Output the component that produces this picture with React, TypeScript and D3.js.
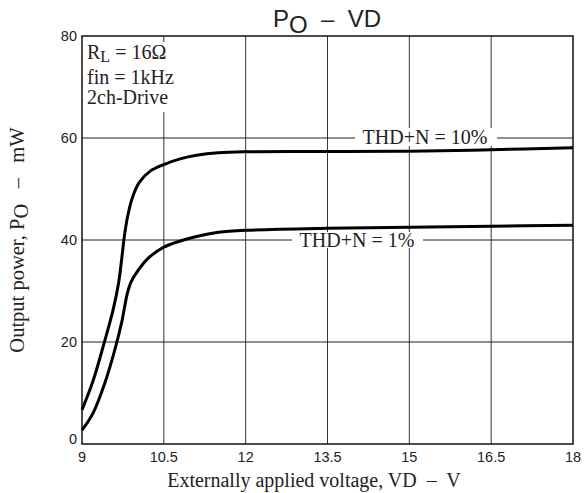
import React from "react";
import * as d3 from "d3";

const xTicks = [9, 10.5, 12, 13.5, 15, 16.5, 18];
const yTicks = [0, 20, 40, 60, 80];

const thd10V = [9, 9.2, 9.4, 9.57, 9.67, 9.73, 9.78, 9.84, 9.92, 10.05, 10.25, 10.5, 10.8, 11.1, 11.5, 12, 13.5, 15, 16.5, 18];
const thd10P = [6.7, 12.3, 19.6, 26.3, 31.5, 36.5, 41.0, 44.8, 48.2, 51.3, 53.5, 54.8, 55.9, 56.6, 57.1, 57.3, 57.35, 57.4, 57.7, 58.1];

const thd1V = [9, 9.2, 9.42, 9.6, 9.73, 9.83, 9.9, 10.0, 10.2, 10.5, 10.8, 11.1, 11.5, 12, 13.5, 15, 16.5, 18];
const thd1P = [2.7, 6.0, 12.0, 18.4, 24.0, 29.5, 31.8, 33.6, 36.3, 38.6, 39.8, 40.7, 41.5, 41.9, 42.3, 42.5, 42.7, 42.9];

const W = 586, H = 493;
const L = 82, R = 573, T = 36, B = 444;

export default function App() {
  const x = d3.scaleLinear().domain([9, 18]).range([L, R]);
  const y = d3.scaleLinear().domain([0, 80]).range([B, T]);
  const line = d3.line<[number, number]>().x(d => x(d[0])).y(d => y(d[1])).curve(d3.curveCatmullRom.alpha(0.5));
  const d10 = line(thd10V.map((v, i) => [v, thd10P[i]]) as [number, number][]) || "";
  const d1 = line(thd1V.map((v, i) => [v, thd1P[i]]) as [number, number][]) || "";
  const serif = "'Liberation Serif', 'Times New Roman', serif";
  const sans = "'Liberation Sans', Arial, sans-serif";
  const pre: React.CSSProperties = { whiteSpace: "pre" };
  return (
    <svg width={W} height={H} style={{ position: "absolute", left: 0, top: 0, background: "#fff" }}>
      <rect x={0} y={0} width={W} height={H} fill="#fff" />
      {xTicks.slice(1, -1).map(t => (
        <line key={"vx" + t} x1={x(t)} x2={x(t)} y1={T} y2={B} stroke="#333" strokeWidth={1} />
      ))}
      {yTicks.slice(1, -1).map(t => (
        <line key={"hy" + t} x1={L} x2={R} y1={y(t)} y2={y(t)} stroke="#222" strokeWidth={1} />
      ))}
      <rect x={L + 1} y={T + 6} width={96} height={70} fill="#fff" />
      <rect x={L} y={T} width={R - L} height={B - T} fill="none" stroke="#111" strokeWidth={1.5} />
      <path d={d10} fill="none" stroke="#000" strokeWidth={3} />
      <path d={d1} fill="none" stroke="#000" strokeWidth={3} />
      <rect x={355} y={y(60) - 10} width={142} height={18} fill="#fff" />
      <text x={425} y={y(60) + 6} textAnchor="middle" fontFamily={serif} fontSize={20} fill="#222">THD+N = 10%</text>
      <rect x={292} y={y(40) - 8} width={131} height={16} fill="#fff" />
      <text x={357} y={y(40) + 7} textAnchor="middle" fontFamily={serif} fontSize={20} fill="#222">THD+N = 1%</text>
      <text x={87} y={59} fontFamily={serif} fontSize={20} fill="#222">
        R<tspan dy={3} fontSize={16}>L</tspan><tspan dy={-3}> = 16Ω</tspan>
      </text>
      <text x={87} y={84} fontFamily={serif} fontSize={20} fill="#222">fin = 1kHz</text>
      <text x={87} y={104} fontFamily={serif} fontSize={20} fill="#222">2ch-Drive</text>
      {xTicks.map(t => (
        <text key={"xl" + t} x={x(t)} y={B + 18} textAnchor="middle" fontFamily={sans} fontSize={14.5} fill="#222">{t}</text>
      ))}
      {yTicks.map(t => (
        <text key={"yl" + t} x={L - 5} y={t === 0 ? y(t) : y(t) + 5} textAnchor="end" fontFamily={sans} fontSize={14.5} fill="#222">{t}</text>
      ))}
      <text x={314} y={487} textAnchor="middle" fontFamily={serif} fontSize={20} fill="#222" style={pre}>Externally applied voltage, VD  –  V</text>
      <text transform={`translate(24, 240) rotate(-90)`} textAnchor="middle" fontFamily={serif} fontSize={20.5} fill="#222" style={pre}>
        Output power, P<tspan dy={4}>O</tspan><tspan dy={-4}>   –   mW</tspan>
      </text>
      <text x={327} y={27} textAnchor="middle" fontFamily={sans} fontSize={24} fill="#222" style={pre}>
        P<tspan dy={6}>O</tspan><tspan dy={-6}>  –  VD</tspan>
      </text>
    </svg>
  );
}
